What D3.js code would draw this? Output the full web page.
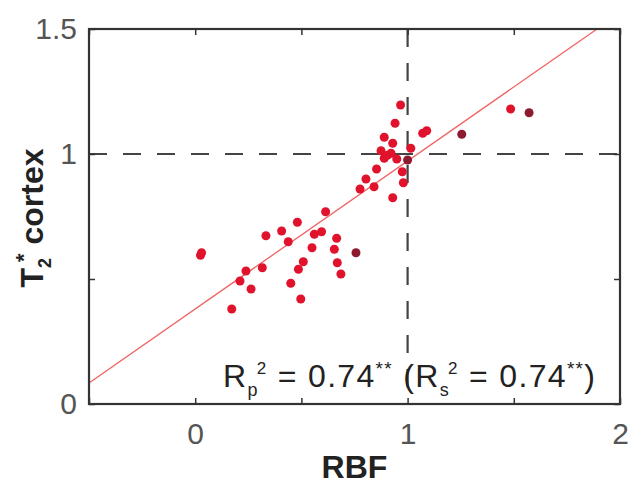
<!DOCTYPE html>
<html>
<head>
<meta charset="utf-8">
<script src="https://cdn.jsdelivr.net/npm/d3@7"></script>
<style>
  html, body { margin: 0; padding: 0; background: #fff; }
  svg { display: block; }
</style>
</head>
<body>
<script>
// ---------- data ----------
const rbf = [0.025, 0.03, 0.172, 0.211, 0.239, 0.263, 0.316, 0.333, 0.407, 0.438,
             0.45, 0.481, 0.486, 0.497, 0.509, 0.55, 0.561, 0.595, 0.614, 0.655,
             0.666, 0.669, 0.686, 0.776, 0.804, 0.842, 0.854, 0.875, 0.89, 0.89,
             0.905, 0.922, 0.93, 0.93, 0.941, 0.949, 0.967, 0.975, 0.98, 1.015,
             1.071, 1.09, 1.485];
const t2cortex = [0.595, 0.605, 0.38, 0.492, 0.532, 0.46, 0.545, 0.673, 0.692, 0.649,
                  0.483, 0.727, 0.539, 0.42, 0.569, 0.625, 0.679, 0.689, 0.769, 0.619,
                  0.663, 0.565, 0.52, 0.86, 0.9, 0.869, 0.94, 1.013, 0.983, 1.067,
                  0.995, 1.003, 1.043, 0.825, 1.123, 0.98, 1.196, 0.929, 0.885, 1.023,
                  1.083, 1.093, 1.18];
// darker markers
const rbfDark = [0.757, 1.0, 1.255, 1.572];
const t2cortexDark = [0.605, 0.976, 1.079, 1.165];

const fitSlope = 0.592;
const fitIntercept = 0.38;
const fitRange = [-0.5, 1.892];

const xDomain = [-0.5, 2];
const yDomain = [0, 1.5];
const xTicks = [-0.5, 0, 0.5, 1, 1.5, 2];
const xTickLabels = ["", "0", "", "1", "", "2"];
const yTicks = [0, 0.5, 1, 1.5];
const yTickLabels = ["0", "", "1", "1.5"];
const refX = 1;
const refY = 1;

// ---------- layout ----------
const W = 629, H = 487;
const L = 89, R = 620, T = 29, B = 404;

const svg = d3.select("body").append("svg").attr("width", W).attr("height", H);

const x = d3.scaleLinear().domain(xDomain).range([L, R]);
const y = d3.scaleLinear().domain(yDomain).range([B, T]);

const FONT = "'Liberation Sans', Arial, Helvetica, sans-serif";

// reference dashed lines
svg.append("line")
  .attr("x1", x(xDomain[0])).attr("x2", x(xDomain[1]))
  .attr("y1", y(refY)).attr("y2", y(refY))
  .attr("stroke", "#444").attr("stroke-width", 2.2)
  .attr("stroke-dasharray", "18,16");
svg.append("line")
  .attr("x1", x(refX)).attr("x2", x(refX))
  .attr("y1", y(yDomain[1])).attr("y2", y(yDomain[0]))
  .attr("stroke", "#444").attr("stroke-width", 2.2)
  .attr("stroke-dasharray", "18,16");

// fit line
svg.append("line")
  .attr("x1", x(fitRange[0])).attr("y1", y(fitIntercept + fitSlope * fitRange[0]))
  .attr("x2", x(fitRange[1])).attr("y2", y(fitIntercept + fitSlope * fitRange[1]))
  .attr("stroke", "#ef6262").attr("stroke-width", 1.3);

// points
svg.append("g").selectAll("circle").data(rbf.map((v, i) => [v, t2cortex[i]]))
  .join("circle")
  .attr("cx", d => x(d[0])).attr("cy", d => y(d[1]))
  .attr("r", 4.5).attr("fill", "#e0122c");
svg.append("g").selectAll("circle").data(rbfDark.map((v, i) => [v, t2cortexDark[i]]))
  .join("circle")
  .attr("cx", d => x(d[0])).attr("cy", d => y(d[1]))
  .attr("r", 4.5).attr("fill", "#8e1a30");

// axes (ticks inward, MATLAB box style)
function styleAxis(g) {
  g.select(".domain").remove();
  g.selectAll(".tick line").attr("stroke", "#333").attr("stroke-width", 1.5);
  g.selectAll(".tick text").attr("fill", "#555").attr("font-family", FONT).attr("font-size", 30);
}
svg.append("g").attr("transform", `translate(0,${B})`)
  .call(d3.axisBottom(x).tickValues(xTicks).tickSizeInner(-6).tickSizeOuter(0).tickPadding(19)
    .tickFormat((d, i) => xTickLabels[i]))
  .call(styleAxis);
svg.append("g").attr("transform", `translate(0,${T})`)
  .call(d3.axisTop(x).tickValues(xTicks).tickSizeInner(-6).tickSizeOuter(0).tickFormat(""))
  .call(styleAxis);
svg.append("g").attr("transform", `translate(${L},0)`)
  .call(d3.axisLeft(y).tickValues(yTicks).tickSizeInner(-6).tickSizeOuter(0).tickPadding(12)
    .tickFormat((d, i) => yTickLabels[i]))
  .call(styleAxis);
svg.append("g").attr("transform", `translate(${R},0)`)
  .call(d3.axisRight(y).tickValues(yTicks).tickSizeInner(-6).tickSizeOuter(0).tickFormat(""))
  .call(styleAxis);

// box
svg.append("rect").attr("x", L).attr("y", T).attr("width", R - L).attr("height", B - T)
  .attr("fill", "none").attr("stroke", "#333").attr("stroke-width", 2.2);

// axis labels
svg.append("text").attr("x", (L + R) / 2).attr("y", 478)
  .attr("text-anchor", "middle").attr("font-family", FONT).attr("font-weight", "bold")
  .attr("font-size", 32).attr("fill", "#222").text("RBF");

const yl = svg.append("text").attr("transform", "translate(43,218) rotate(-90)")
  .attr("text-anchor", "middle").attr("font-family", FONT).attr("font-weight", "bold")
  .attr("font-size", 32).attr("fill", "#222");
yl.append("tspan").text("T");
yl.append("tspan").attr("font-size", 18).attr("dy", 8).text("2");
yl.append("tspan").attr("font-size", 22).attr("dy", -20).attr("dx", -4).text("*");
yl.append("tspan").attr("dy", 12).text(" cortex");

// annotation
const ann = svg.append("text").attr("x", 223).attr("y", 387)
  .attr("font-family", FONT).attr("font-size", 32).attr("fill", "#222")
  .attr("textLength", 372).attr("lengthAdjust", "spacing");
ann.append("tspan").text("R");
ann.append("tspan").attr("font-size", 18).attr("dy", 9).text("p");
ann.append("tspan").attr("font-size", 17).attr("dy", -22).attr("dx", -2).text("2");
ann.append("tspan").attr("dy", 13).text(" = 0.74");
ann.append("tspan").attr("font-size", 19).attr("dy", -12).text("**");
ann.append("tspan").attr("dy", 12).text(" (R");
ann.append("tspan").attr("font-size", 18).attr("dy", 9).text("s");
ann.append("tspan").attr("font-size", 17).attr("dy", -22).attr("dx", -2).text("2");
ann.append("tspan").attr("dy", 13).text(" = 0.74");
ann.append("tspan").attr("font-size", 19).attr("dy", -12).text("**");
ann.append("tspan").attr("dy", 12).text(")");
</script>
</body>
</html>
